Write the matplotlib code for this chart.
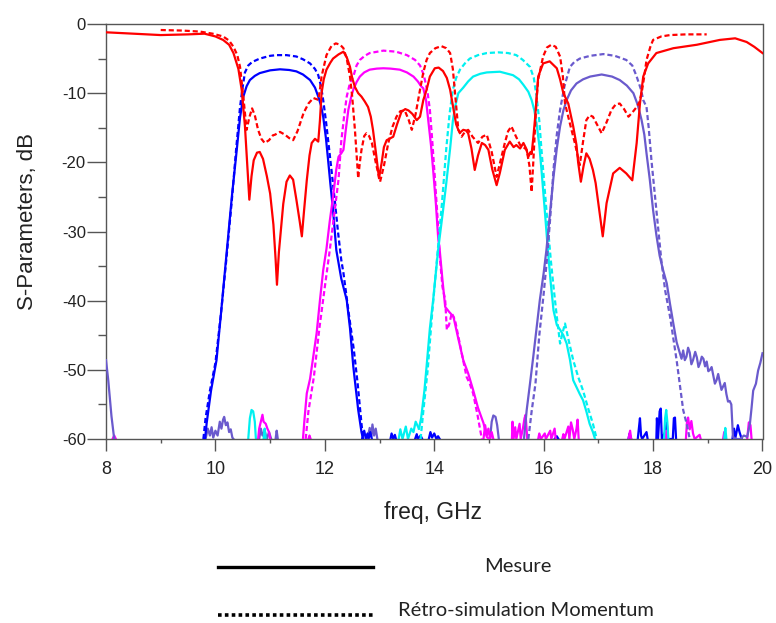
import numpy as np
import matplotlib
matplotlib.use("Agg")
import matplotlib.pyplot as plt
from matplotlib.lines import Line2D

nan = np.nan

# ---------------- data ----------------
red_meas_f = [8.0, 8.5, 9.0, 9.5, 9.8, 10.0, 10.14, 10.25, 10.33, 10.42, 10.48, 10.54, 10.58, 10.62, 10.66,
              10.7, 10.76, 10.81, 10.87, 10.94, 11.0, 11.06, 11.1, 11.125, 11.16, 11.2, 11.24, 11.3, 11.36,
              11.42, 11.48, 11.54, 11.58, 11.62, 11.67, 11.72, 11.76, 11.82, 11.88, 11.91, 11.94, 11.98,
              12.03, 12.1, 12.15, 12.25, 12.34, 12.4, 12.46, 12.5, 12.55, 12.61, 12.67, 12.73, 12.79, 12.84,
              12.88, 12.94, 12.99, 13.04, 13.08, 13.13, 13.2, 13.25, 13.32, 13.4, 13.47, 13.53, 13.6, 13.68,
              13.74, 13.8, 13.86, 13.92, 14.01, 14.08, 14.16, 14.23, 14.29, 14.35, 14.4, 14.44, 14.47, 14.53,
              14.58, 14.62, 14.68, 14.74, 14.8, 14.87, 14.93, 14.99, 15.06, 15.14, 15.2, 15.29, 15.38, 15.45,
              15.5, 15.57, 15.63, 15.68, 15.72, 15.76, 15.78, 15.81, 15.84, 15.9, 15.99, 16.11, 16.24, 16.3,
              16.36, 16.45, 16.54, 16.6, 16.63, 16.68, 16.73, 16.78, 16.84, 16.9, 16.95, 17.0, 17.08, 17.15,
              17.27, 17.39, 17.51, 17.62, 17.7, 17.76, 17.82, 17.91, 18.06, 18.37, 18.8, 19.22, 19.5, 19.71,
              19.85, 20.0]
red_meas_db = [-1.2, -1.4, -1.6, -1.5, -1.4, -1.8, -2.3, -3.0, -4.2, -6.5, -9.5, -14.8, -20, -25.4, -22,
               -19.7, -18.6, -18.5, -19.5, -22, -24.5, -29, -34, -37.7, -33, -29.5, -26, -22.8, -21.9,
               -22.5, -25.4, -28.5, -30.7, -27, -22.6, -19, -17.2, -16.6, -17.0, -14, -10, -8,
               -6.6, -5.6, -5.0, -4.4, -4.0, -4.8, -6.2, -7.8, -9.1, -10.0, -10.5, -11.2, -12.0, -13.4,
               -15.3, -19, -22.3, -20, -17.8, -16.8, -16.5, -16.3, -14.5, -12.7, -12.3, -12.5, -13, -13.9,
               -13.4, -11, -9.5, -7.6, -6.4, -6.3, -6.8, -7.8, -9.5, -12.2, -14.5, -15.3, -15.7, -15.3,
               -15.4, -15.8, -18, -21.1, -19, -17.2, -17.5, -18.2, -21, -23.3, -21.5, -18.2, -17.0, -17.8,
               -17.5, -18.0, -17.2, -18, -19.2, -18.5, -18.8, -16.5, -13.9, -7.6, -5.7, -5.4, -6.4, -8.0,
               -10, -11.5, -14.8, -17.5, -20, -22.8, -20.5, -18.7, -19.5, -21.1, -23, -26.0, -30.7, -25.9,
               -21.6, -20.8, -21.6, -22.6, -17.2, -11.5, -7.6, -5.7, -4.2, -3.5, -3.0, -2.3, -2.07, -2.6,
               -3.3, -4.2]

red_sim_f = [9.0, 9.4, 9.72, 9.95, 10.14, 10.25, 10.33, 10.4, 10.45, 10.51, 10.57, 10.62, 10.67, 10.72, 10.78,
             10.84, 10.9, 10.98, 11.05, 11.09, 11.18, 11.27, 11.35, 11.42, 11.5, 11.61, 11.7, 11.79, 11.86,
             11.88, 11.91, 11.94, 12.03, 12.12, 12.2, 12.28, 12.34, 12.4, 12.46, 12.5, 12.55, 12.61, 12.64,
             12.67, 12.72, 12.76, 12.81, 12.86, 12.93, 13.01, 13.08, 13.16, 13.24, 13.31, 13.38, 13.46,
             13.53, 13.59, 13.66, 13.74, 13.8, 13.86, 13.92, 14.02, 14.13, 14.22, 14.29, 14.34, 14.38, 14.44,
             14.5, 14.56, 14.62, 14.7, 14.8, 14.88, 14.96, 15.05, 15.14, 15.22, 15.29, 15.35, 15.41, 15.49,
             15.57, 15.63, 15.69, 15.74, 15.78, 15.81, 15.84, 15.87, 15.9, 15.99, 16.06, 16.14, 16.22, 16.3,
             16.35, 16.39, 16.48, 16.57, 16.66, 16.72, 16.78, 16.84, 16.9, 16.98, 17.06, 17.15, 17.24, 17.32,
             17.39, 17.47, 17.55, 17.62, 17.7, 17.75, 17.79, 17.84, 17.88, 17.95, 18.0, 18.15, 18.31, 18.6,
             18.98]
red_sim_db = [-0.87, -0.95, -1.1, -1.4, -1.8, -2.4, -3.3, -4.5, -6.2, -10.5, -15.3, -13.5, -12.2, -13.2, -15.3,
              -16.6, -17.2, -16.8, -16.1, -16.0, -15.6, -16, -16.5, -16.8, -15.5, -12.9, -11.5, -10.7, -10.9,
              -11, -9.5, -7.6, -4.5, -3.2, -2.8, -3.0, -3.5, -5.0, -7.6, -10.5, -15.3, -22.3, -20,
              -18.2, -16.2, -15.8, -16.2, -17.2, -20, -22.8, -20.5, -17.2, -14.8, -13.4, -12.6, -12.5,
              -13.8, -15.3, -13, -9.5, -7, -5.2, -4.2, -3.5, -3.2, -3.5, -4.2, -6.5, -10, -15.3,
              -16.3, -15.6, -15.3, -16.3, -17.2, -16.3, -16, -18.5, -22.1, -19.5, -17.2, -15.5, -14.8, -16.2,
              -17.5, -17.8, -18.2, -20.5, -24.3, -20, -15.3, -11, -8, -4.7, -3.4, -3.0, -3.3, -4.7,
              -7.5, -11.5, -14.4, -17.2, -20.4, -17, -13.9, -13.2, -13.4, -14.6, -15.8, -14.2, -12.4, -11.6,
              -11.5, -12.3, -13.4, -12.8, -12, -11.3, -10, -7.5, -5.2, -3.3, -2.3, -1.8, -1.6, -1.5,
              -1.5]

blue_meas_f = [9.81, 9.84, 9.92, 10.02, 10.1, 10.2, 10.3, 10.39, 10.45, 10.51, 10.57, 10.63, 10.72, 10.81,
               11.0, 11.18, 11.35, 11.48, 11.6, 11.73, 11.82, 11.88, 11.93, 11.97, 12.02, 12.06, 12.1, 12.15,
               12.21, 12.3, 12.4, 12.46, 12.52, 12.57, 12.61, 12.67, 12.7]
blue_meas_db = [-60, -57.7, -53, -48.6, -42, -33.5, -25, -18.2, -13.5, -10.5, -9, -8.1, -7.5, -7.1,
                -6.7, -6.55, -6.65, -6.85, -7.3, -8.1, -9.2, -10.5, -11.8, -13.4, -16.5, -19.7, -23, -26.9,
                -32.7, -36.8, -39.9, -44, -49.5, -53, -55.8, -59, -60]
blue_sim_f = [9.78, 9.82, 9.9, 10.0, 10.1, 10.2, 10.3, 10.38, 10.45, 10.5, 10.54, 10.6, 10.67, 10.81, 11.0,
              11.12, 11.3, 11.48, 11.6, 11.73, 11.82, 11.88, 11.93, 11.97, 12.02, 12.06, 12.12, 12.18, 12.24,
              12.3, 12.34, 12.44, 12.53, 12.6, 12.67, 12.7]
blue_sim_db = [-60, -57, -53, -49, -42, -34, -25.5, -18, -12, -9, -7, -6.0, -5.5, -5.0, -4.6,
               -4.5, -4.5, -4.7, -5.1, -5.7, -6.5, -7.4, -9, -11, -14, -16.8, -21, -25.4, -30,
               -34.1, -36, -42, -47.1, -52, -57.8, -60]

magenta_meas_f = [11.6, 11.63, 11.67, 11.73, 11.79, 11.85, 11.91, 11.97, 12.03, 12.09, 12.15, 12.21, 12.25,
                  12.3, 12.34, 12.38, 12.43, 12.48, 12.52, 12.58, 12.64, 12.72, 12.82, 12.95, 13.07, 13.2,
                  13.37, 13.5, 13.62, 13.7, 13.76, 13.8, 13.85, 13.89, 13.94, 13.98, 14.03, 14.07, 14.1,
                  14.15, 14.2, 14.27, 14.35, 14.44, 14.53, 14.62, 14.71, 14.8, 14.9, 14.96, 15.0]
magenta_meas_db = [-60, -57, -53.4, -51.3, -48, -44.7, -40, -35.6, -32.5, -28.5, -25, -21, -19.2,
                   -18.7, -18.2, -15.5, -12.4, -10.6, -9.5, -8.4, -7.6, -7.0, -6.6, -6.45, -6.4, -6.45,
                   -6.6, -7.0, -7.6, -8.3, -9.0, -9.3, -11, -13.9, -17.5, -21.1, -26, -30.7, -32.7,
                   -37, -40.9, -41.6, -42.3, -45.5, -48.6, -50.5, -52.9, -55.5, -57.7, -59.7, -60]
magenta_sim_f = [11.65, 11.7, 11.8, 11.9, 12.0, 12.09, 12.18, 12.25, 12.3, 12.35, 12.4, 12.46, 12.52, 12.58,
                 12.64, 12.73, 12.82, 13.07, 13.3, 13.5, 13.65, 13.74, 13.8, 13.83, 13.88, 13.92, 13.96,
                 14.01, 14.06, 14.1, 14.15, 14.2, 14.23, 14.27, 14.32, 14.38, 14.41, 14.5, 14.59, 14.65,
                 14.71, 14.79, 14.87]
magenta_sim_db = [-60, -56, -51, -44, -38, -32.7, -27, -22.5, -17, -13.5, -10.5, -8.5, -7.6, -6.0,
                  -5.2, -4.6, -4.2, -3.85, -4.0, -4.5, -5.2, -6.0, -7.2, -8.1, -10, -12.4, -16.5,
                  -22.1, -28, -33.5, -38, -39.9, -44.2, -43.5, -41.8, -42.8, -44, -47.5, -51, -52,
                  -53.4, -56.5, -60]

cyan_meas_f = [13.72, 13.76, 13.82, 13.86, 13.92, 13.98, 14.07, 14.16, 14.22, 14.29, 14.34, 14.38, 14.44,
               14.53, 14.62, 14.71, 14.84, 14.96, 15.2, 15.44, 15.55, 15.63, 15.72, 15.78, 15.83, 15.87,
               15.92, 15.96, 16.02, 16.08, 16.13, 16.18, 16.24, 16.3, 16.36, 16.42, 16.48, 16.54, 16.6,
               16.66, 16.72, 16.78, 16.84, 16.9, 16.94]
cyan_meas_db = [-58.5, -57, -53, -49.5, -44, -39.9, -32.7, -27, -23, -18, -14, -12.0, -10.0,
                -9.2, -8.3, -7.6, -7.2, -7.0, -6.9, -7.4, -8.0, -8.8, -9.8, -11, -12.5, -14.4,
                -17.5, -21.1, -26.9, -33, -37.5, -41.4, -43.5, -44.2, -45, -46.2, -48.5, -51.5, -52.5,
                -53.5, -54.4, -56, -57.8, -59, -60]
cyan_sim_f = [13.75, 13.8, 13.88, 13.96, 14.05, 14.14, 14.22, 14.28, 14.34, 14.4, 14.47, 14.56, 14.65, 14.8,
              14.96, 15.17, 15.35, 15.5, 15.62, 15.75, 15.82, 15.87, 15.92, 15.96, 16.0, 16.05, 16.13,
              16.18, 16.24, 16.3, 16.35, 16.39, 16.45, 16.54, 16.63, 16.72, 16.81, 16.9, 16.97]
cyan_sim_db = [-60, -56, -50, -42, -34, -26, -18, -13, -9.5, -7.8, -6.6, -5.7, -5.0, -4.5,
               -4.2, -4.1, -4.2, -4.5, -5.2, -6.2, -7.8, -10.5, -14, -18.2, -22, -26.9, -34.1,
               -38, -42.3, -46.2, -44.5, -43.3, -45.5, -48.6, -51, -53, -55.5, -57.8, -60]

slate_meas_f = [8.0, 8.04, 8.1, 8.15, nan,
                15.64, 15.69, 15.75, 15.81, 15.87, 15.93, 16.0, 16.05, 16.12, 16.18, 16.24, 16.3, 16.36,
                16.42, 16.5, 16.6, 16.72, 16.85, 17.06, 17.25, 17.39, 17.52, 17.64, 17.72, 17.79, 17.84,
                17.88, 17.94, 18.0, 18.06, 18.12, 18.18, 18.25, 18.31, 18.37, 18.43, 18.49, 18.52, 18.55,
                18.58, 18.61, 18.64, 18.67, 18.7, 18.73, 18.77, 18.8, 18.83, 18.86, 18.89, 18.92, 18.95,
                18.98, 19.01, 19.04, 19.07, 19.1, 19.13, 19.16, 19.19, 19.22, 19.25, 19.28, 19.31, 19.34,
                19.37, 19.4, 19.43, 19.46, 19.52, 19.59, 19.66, 19.72, 19.77, 19.8, 19.83, 19.88, 19.92,
                19.96, 20.0]
slate_meas_db = [-48.6, -51.4, -56.7, -60, nan,
                 -60, -55.8, -52, -48.1, -44, -39.9, -36, -32.7, -27, -22.1, -18, -14.8, -12.5,
                 -11, -9.6, -8.6, -8.0, -7.6, -7.3, -7.6, -8.1, -8.9, -10, -11.7, -13.9, -16,
                 -18.7, -22.5, -26.9, -30.5, -33.5, -35.5, -37.5, -40.5, -43.3, -46, -47.6, -48.4, -47.2,
                 -48.6, -48.1, -46.8, -47.5, -49.2, -48.6, -47.4, -48.2, -49.6, -49, -48.1, -48.4, -49.5,
                 -48.8, -50.2, -50, -49.6, -50.8, -52, -51.5, -50.6, -51.8, -52.9, -52.4, -51.9, -53.5,
                 -54.6, -54.5, -55.0, -59.7, -60, -60, -59.5, -59.7, -57.8, -55.5, -53, -52, -50.1,
                 -49, -47.6]
slate_sim_f = [15.72, 15.78, 15.85, 15.92, 16.0, 16.06, 16.12, 16.18, 16.24, 16.3, 16.38, 16.48, 16.56, 16.66,
               16.85, 17.09, 17.3, 17.51, 17.62, 17.7, 17.78, 17.82, 17.88, 17.92, 17.97, 18.06, 18.15,
               18.22, 18.31, 18.43, 18.55, 18.62, 18.67]
slate_sim_db = [-60, -56, -52, -45, -39, -34, -28, -21, -16, -12.4, -9, -6.2, -5.5, -5.0,
                -4.6, -4.35, -4.6, -5.2, -6.0, -7.6, -9.5, -11, -12, -15, -19.7, -26.9, -34.1,
                -38.5, -42.3, -48.6, -55.8, -58, -60]

# noise floor (measured) near -60 dB, segments separated by nan
slate_noise_f = [9.82, 9.86, 9.9, 9.93, 9.96, 10.0, 10.04, 10.08, 10.11, 10.14, 10.16, 10.19, 10.22, 10.25,
                 10.28, 10.31, 10.33, nan, 10.8, 10.83, 10.86, 10.9, 10.94, 10.98, 11.02, nan,
                 11.1, 11.12, 11.14, nan, 12.78, 12.82, 12.85, 12.87, 12.9, 12.93, 12.96, nan,
                 15.02, 15.05, 15.08, 15.12, 15.15, 15.18]
slate_noise_db = [-60, -58.5, -59.5, -58.3, -59.8, -58.8, -59.5, -57.5, -58.5, -57.2, -56.8, -58, -57.6, -59,
                  -58.6, -59.8, -60, nan, -60, -58.5, -59.5, -58.8, -60, -59, -60, nan,
                  -60, -58.8, -60, nan, -60, -58.4, -59.6, -57.9, -59.5, -58.5, -60, nan,
                  -60, -57.5, -56.6, -56.8, -58, -60]
blue_noise_f = [12.68, 12.72, 12.75, 12.78, 12.8, 12.83, 12.86, nan, 13.2, 13.22, 13.25, 13.28, 13.3, nan,
                13.65, 13.68, 13.7, 13.75, 13.78, nan, 13.9, 13.93, 13.96, 14.0, 14.04, 14.07, 14.1, nan,
                16.2, 16.24, 16.27, nan, 17.55, 17.57, 17.6, nan, 17.72, 17.74, 17.76, 17.78, 17.8, 17.88,
                17.9, nan, 18.06, 18.07, 18.09, 18.12, 18.14, 18.16, 18.22, 18.25, 18.27, 18.36, 18.38,
                18.4, 18.42, nan, 19.45, 19.48, 19.5, 19.55, 19.58, 19.62]
blue_noise_db = [-60, -58.8, -60, -59.2, -60, -59, -60, nan, -60, -59.2, -60, -59.4, -60, nan,
                 -60, -59.3, -60, -59.5, -60, nan, -60, -59, -59.8, -59.2, -60, -59.6, -60, nan,
                 -60, -59.6, -60, nan, -60, -59.2, -60, nan, -60, -58.5, -57, -59.5, -60, -59,
                 -60, nan, -60, -57, -60, -56, -55.6, -60, -59, -57.6, -60, -60, -57,
                 -56.9, -60, nan, -60, -58.5, -60, -58, -59, -60]
magenta_noise_f = [8.12, 8.15, 8.18, nan, 10.78, 10.8, 10.83, 10.86, 10.88, 10.92, 10.95, 10.98, 11.0, nan,
                   11.7, 11.72, 11.74, nan, 14.9, 14.93, 14.96, 14.99, 15.02, 15.05, 15.08, nan,
                   15.42, 15.43, 15.45, 15.48, 15.5, 15.56, 15.58, 15.62, 15.65, 15.67, 15.7, nan,
                   15.9, 15.92, 15.95, 16.02, 16.04, 16.12, 16.14, 16.2, 16.22, nan,
                   16.34, 16.36, 16.38, 16.45, 16.47, 16.5, 16.53, 16.56, 16.6, 16.62, 16.64, nan,
                   17.55, 17.58, 17.6, nan, 18.22, 18.24, 18.26, nan,
                   18.6, 18.62, 18.64, 18.67, 18.7, 18.73, 18.76, 18.85, 18.87, nan,
                   19.28, 19.3, 19.32, nan, 19.72, 19.75, 19.78, 19.8]
magenta_noise_db = [-60, -59.5, -60, nan, -60, -58.5, -57.5, -56.5, -57.5, -57.8, -58.5, -59, -60, nan,
                    -60, -59.5, -60, nan, -60, -58, -59.5, -58.5, -60, -59, -60, nan,
                    -60, -57.5, -60, -58.3, -60, -57.8, -60, -58.5, -57, -56.5, -60, nan,
                    -60, -59.2, -60, -59.2, -60, -58.8, -60, -58.5, -60, nan,
                    -60, -59.3, -60, -58.2, -60, -57.6, -58.6, -60, -58.5, -57.2, -60, nan,
                    -60, -58.8, -60, nan, -60, -58.8, -60, nan,
                    -60, -57.5, -56.9, -58.6, -57.4, -59.2, -60, -59.4, -60, nan,
                    -60, -59, -60, nan, -60, -57.6, -58, -60]
cyan_noise_f = [10.6, 10.63, 10.66, 10.69, 10.72, 10.74, nan, 10.88, 10.9, 10.92, nan,
                13.35, 13.38, 13.42, 13.48, 13.52, 13.58, 13.62, 13.66, 13.72, nan,
                18.2, 18.22, 18.24, 18.26, 18.28, nan, 19.3, 19.32, 19.34]
cyan_noise_db = [-60, -57, -55.8, -56, -57.5, -60, nan, -60, -58.5, -60, nan,
                 -60, -58.6, -60, -58.2, -60, -58.5, -59, -57.5, -58.5, nan,
                 -60, -57, -55.8, -57.5, -60, nan, -60, -58.4, -60]

x_ticks = [8, 10, 12, 14, 16, 18, 20]
y_ticks = [0, -10, -20, -30, -40, -50, -60]
legend_labels = ["Mesure", "Rétro-simulation Momentum"]

# ---------------- styling ----------------
RED = "#ff0000"
BLUE = "#0000ff"
MAGENTA = "#ff00ff"
CYAN = "#00f0f0"
SLATE = "#6a5acd"

W, H = 776, 623
fig = plt.figure(figsize=(W / 100, H / 100), dpi=100)
ax = fig.add_axes([106 / W, (H - 439) / H, (762.5 - 106) / W, (439 - 24) / H])

lw = 1.6
dash = (0, (2.3, 1.3))

def solid(f, d, c, z=3):
    ax.plot(f, d, color=c, lw=lw, solid_joinstyle="round", zorder=z)

def dashed(f, d, c, z=3):
    ax.plot(f, d, color=c, lw=lw, linestyle=dash, zorder=z)

# noise
solid(slate_noise_f, slate_noise_db, SLATE, 2)
solid(blue_noise_f, blue_noise_db, BLUE, 2)
solid(magenta_noise_f, magenta_noise_db, MAGENTA, 2)
solid(cyan_noise_f, cyan_noise_db, CYAN, 2)

# channel filters
solid(blue_meas_f, blue_meas_db, BLUE)
dashed(blue_sim_f, blue_sim_db, BLUE)
solid(magenta_meas_f, magenta_meas_db, MAGENTA)
dashed(magenta_sim_f, magenta_sim_db, MAGENTA)
solid(cyan_meas_f, cyan_meas_db, CYAN)
dashed(cyan_sim_f, cyan_sim_db, CYAN)
solid(slate_meas_f, slate_meas_db, SLATE)
dashed(slate_sim_f, slate_sim_db, SLATE)
# reflection
solid(red_meas_f, red_meas_db, RED, 4)
dashed(red_sim_f, red_sim_db, RED, 4)

ax.set_xlim(8, 20)
ax.set_ylim(-60, 0)
ax.set_xticks(x_ticks)
ax.set_xticklabels([str(t) for t in x_ticks])
ax.set_xticks(np.arange(8, 21, 1), minor=True)
ax.set_yticks(y_ticks)
ax.set_yticklabels([str(t) for t in y_ticks])
ax.set_yticks(np.arange(-60, 1, 5), minor=True)

spine_c = "#555555"
for s in ax.spines.values():
    s.set_color(spine_c)
    s.set_linewidth(1.0)

tick_font = "Liberation Sans"
ax.tick_params(axis="y", which="major", direction="out", length=13.5, width=1.0, color=spine_c,
               pad=1.0, labelsize=12, labelcolor="#222222")
ax.tick_params(axis="y", which="minor", direction="out", length=5.5, width=1.0, color=spine_c)
ax.tick_params(axis="x", which="major", direction="out", length=8.5, width=1.0, color=spine_c,
               pad=7, labelsize=13, labelcolor="#222222")
ax.tick_params(axis="x", which="minor", direction="out", length=3, width=1.0, color=spine_c)
for lab in ax.get_xticklabels() + ax.get_yticklabels():
    lab.set_family(tick_font)

fig.text(433 / W, 1 - 513 / H, "freq, GHz", ha="center", va="center",
         fontsize=16.5, family=tick_font, color="#222222")
fig.text(28 / W, 1 - 222 / H, "S-Parameters, dB", ha="center", va="center", rotation=90,
         fontsize=16, family=tick_font, color="#222222")

# legend drawn below the chart
fig.add_artist(Line2D([218 / W, 373 / W], [1 - 567 / H, 1 - 567 / H], color="black", lw=2.4,
                      transform=fig.transFigure))
fig.add_artist(Line2D([218 / W, 373 / W], [1 - 615 / H, 1 - 615 / H], color="black", lw=2.6,
                      linestyle=(0, (1, 0.9)), solid_capstyle="butt", dash_capstyle="butt",
                      transform=fig.transFigure))
fig.text(518 / W, 1 - 567 / H, legend_labels[0], ha="center", va="center", fontsize=14.5,
         family="Lato", color="#222222")
fig.text(526 / W, 1 - 611 / H, legend_labels[1], ha="center", va="center", fontsize=14.5,
         family="Lato", color="#222222")

fig.savefig("out.png", dpi=100, facecolor="white")
